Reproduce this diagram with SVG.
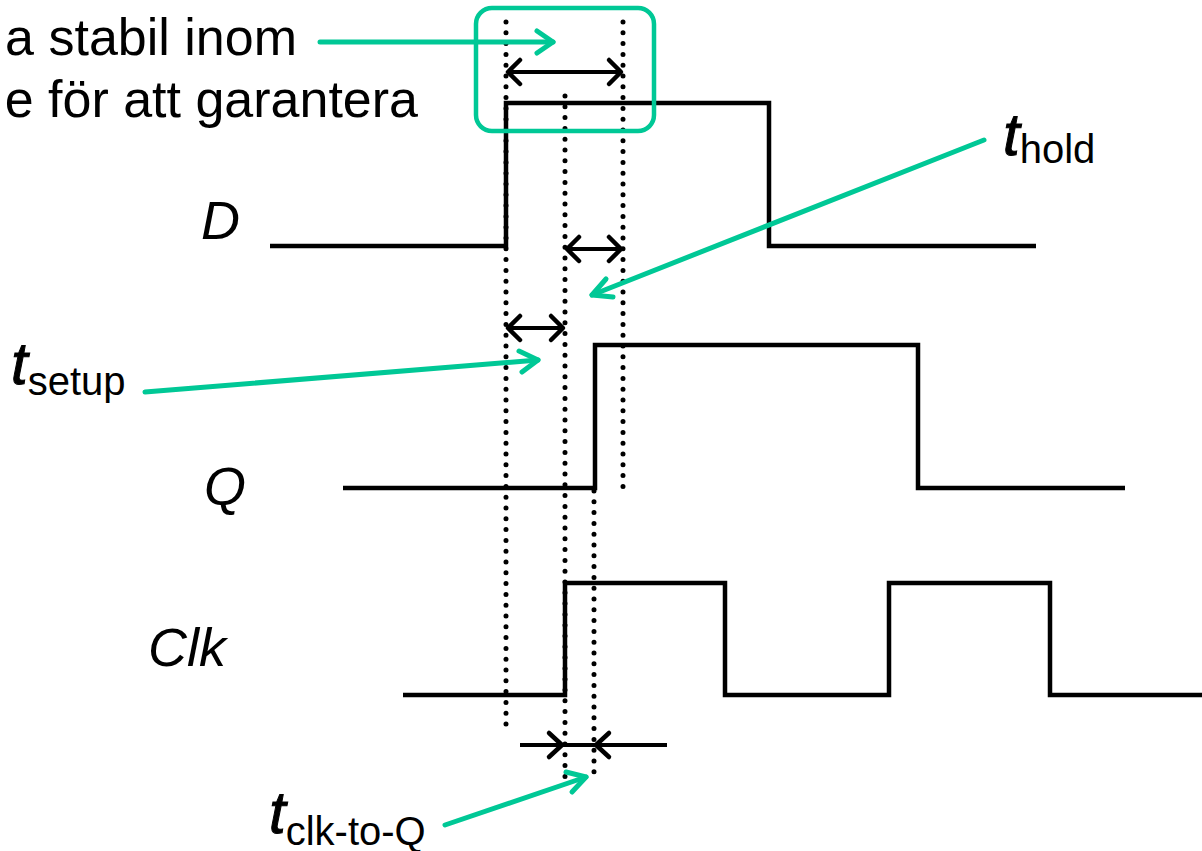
<svg xmlns="http://www.w3.org/2000/svg" width="1202" height="851" viewBox="0 0 1202 851">
<defs>
<style>
.sig{fill:none;stroke:#000;stroke-width:4.5;stroke-linejoin:miter}
.dot{fill:none;stroke:#000;stroke-width:5;stroke-linecap:round;stroke-dasharray:0 10.8}
.dim{fill:none;stroke:#000;stroke-width:4}
.ah{fill:none;stroke:#000;stroke-width:4.5;stroke-linecap:round;stroke-linejoin:round}
.gr{fill:none;stroke:#00C896;stroke-width:5;stroke-linecap:round;stroke-linejoin:round}
.txt{font-family:"Liberation Sans",Arial,sans-serif;fill:#000}
.lbl{font-family:"Liberation Sans",Arial,sans-serif;font-style:italic;font-size:54px;fill:#000}
.tt{font-family:"Liberation Sans",Arial,sans-serif;font-style:italic;font-size:60px;fill:#000;stroke:#000;stroke-width:1}
.sub{font-family:"Liberation Sans",Arial,sans-serif;font-size:40px;fill:#000}
</style>
</defs>
<rect width="1202" height="851" fill="#fff"/>
<g id="text-top">
<text class="txt" x="297" y="55" font-size="52" text-anchor="end">a stabil inom</text>
<text class="txt" x="418" y="117" font-size="52" text-anchor="end">e för att garantera</text>
</g>
<g id="signal-D">
<polyline class="sig" points="270,246 506,246 506,103 769,103 769,246 1036,246"/>
<text class="lbl" x="201" y="239">D</text>
</g>
<g id="signal-Q">
<polyline class="sig" points="343,488 595,488 595,345 918,345 918,488 1125,488"/>
<text class="lbl" x="204" y="505">Q</text>
</g>
<g id="signal-Clk">
<polyline class="sig" points="403,695 565,695 565,583 725,583 725,695 889,695 889,583 1050,583 1050,695 1202,695"/>
<text class="lbl" x="148" y="666">Clk</text>
</g>
<g id="guides">
<line class="dot" x1="506" y1="22" x2="506" y2="725"/>
<line class="dot" x1="623" y1="22" x2="623" y2="488"/>
<line class="dot" x1="565" y1="96" x2="565" y2="777"/>
<line class="dot" x1="594" y1="491" x2="594" y2="774"/>
</g>
<g id="window-box">
<rect x="476" y="8" width="178" height="123" rx="16" fill="none" stroke="#00C896" stroke-width="4.5"/>
</g>
<g id="connectors">
<line class="dim" x1="508" y1="72" x2="621" y2="72"/>
<polyline class="ah" points="520,60 508,72 520,84"/>
<polyline class="ah" points="609,60 621,72 609,84"/>
<line class="dim" x1="567" y1="249" x2="621" y2="249"/>
<polyline class="ah" points="579,237 567,249 579,261"/>
<polyline class="ah" points="609,237 621,249 609,261"/>
<line class="dim" x1="508" y1="328" x2="563" y2="328"/>
<polyline class="ah" points="520,316 508,328 520,340"/>
<polyline class="ah" points="551,316 563,328 551,340"/>
<line class="dim" x1="520" y1="745" x2="667" y2="745"/>
<polyline class="ah" points="549,733 562,745 549,757"/>
<polyline class="ah" points="609,733 596,745 609,757"/>
<line class="gr" x1="320" y1="42" x2="553" y2="42"/>
<polyline class="gr" points="537,31 553,42 537,53"/>
<line class="gr" x1="984" y1="140" x2="592" y2="295"/>
<polyline class="gr" points="606,279 592,295 613,297"/>
<line class="gr" x1="145" y1="392" x2="538" y2="360"/>
<polyline class="gr" points="519,351 538,360 522,372"/>
<line class="gr" x1="445" y1="825" x2="586" y2="777"/>
<polyline class="gr" points="566,772 586,777 572,792"/>
</g>
<g id="label-thold">
<text x="1003" y="155"><tspan class="tt">t</tspan><tspan class="sub" dy="8">hold</tspan></text>
</g>
<g id="label-tsetup">
<text x="11" y="384"><tspan class="tt">t</tspan><tspan class="sub" dy="11">setup</tspan></text>
</g>
<g id="label-tclk">
<text x="269" y="833"><tspan class="tt">t</tspan><tspan class="sub" dy="12">clk-to-Q</tspan></text>
</g>
</svg>
